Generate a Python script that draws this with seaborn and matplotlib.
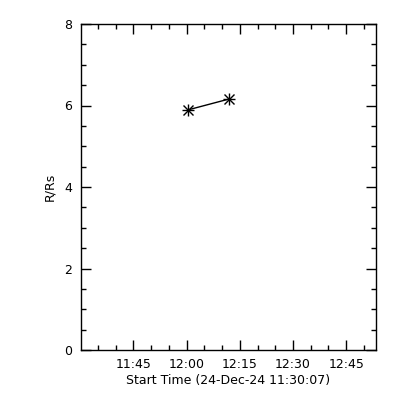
#!/usr/bin/env python3
"""Height-time plot (R/Rs vs start time), IDL style."""

import numpy as np
import pandas as pd
import matplotlib
matplotlib.use("Agg")
import matplotlib.pyplot as plt
import seaborn as sns
from matplotlib.ticker import FixedLocator, MultipleLocator, FuncFormatter

# data
times = ["12:00:17", "12:12:00"]
r_rs = [5.89, 6.16]
start_time = "11:30:07"
end_time = "12:53:20"
tick_times = ["11:45", "12:00", "12:15", "12:30", "12:45"]
x_label = "Start Time (24-Dec-24 11:30:07)"
y_label = "R/Rs"


def to_min(t):
    parts = [int(p) for p in t.split(":")]
    while len(parts) < 3:
        parts.append(0)
    h, m, s = parts
    return h * 60 + m + s / 60.0


def fmt(x, pos):
    h = int(x // 60)
    m = int(round(x - h * 60))
    return f"{h:02d}:{m:02d}"


sns.set_theme(style="ticks")
plt.rcParams["font.family"] = ["DejaVu Sans"]

df = pd.DataFrame({"t": [to_min(t) for t in times], "r": r_rs})

fig = plt.figure(figsize=(4, 4), dpi=100)
ax = fig.add_axes([0.2018, 0.125, 0.9392 - 0.2018, 0.94 - 0.125])

sns.lineplot(data=df, x="t", y="r", ax=ax, color="black", linewidth=1.0)
# IDL asterisk: plus and cross drawn on top of each other
ax.plot(df["t"], df["r"], linestyle="none", marker="+",
        markersize=9, markeredgewidth=1.0, color="black")
ax.plot(df["t"], df["r"], linestyle="none", marker="x",
        markersize=7, markeredgewidth=1.0, color="black")

ax.set_xlim(to_min(start_time), to_min(end_time))
ax.set_ylim(0, 8)

ax.xaxis.set_major_locator(FixedLocator([to_min(t) for t in tick_times]))
ax.xaxis.set_minor_locator(MultipleLocator(5))
ax.xaxis.set_major_formatter(FuncFormatter(fmt))
ax.yaxis.set_major_locator(MultipleLocator(2))
ax.yaxis.set_minor_locator(MultipleLocator(0.5))
ax.yaxis.set_major_formatter(FuncFormatter(lambda v, p: f"{int(v)}"))

ax.tick_params(which="both", direction="in", top=True, right=True,
               colors="black", labelsize=9, width=1.0)
ax.tick_params(which="major", length=7, pad=6)
ax.tick_params(which="minor", length=3.5)

for sp in ax.spines.values():
    sp.set_color("black")
    sp.set_linewidth(1.0)

ax.set_xlabel(x_label, fontsize=9, color="black", labelpad=2)
ax.set_ylabel(y_label, fontsize=9, color="black", labelpad=6)

fig.savefig("out.png", dpi=100, facecolor="white")
